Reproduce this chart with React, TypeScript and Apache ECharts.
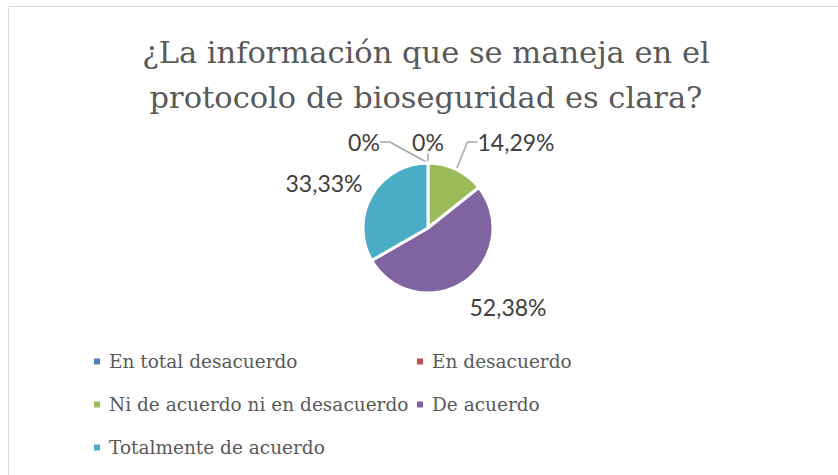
import React, { useEffect, useRef } from "react";
import * as echarts from "echarts";

const titleLines = ["¿La información que se maneja en el", "protocolo de bioseguridad es clara?"];
const categories = [
  "En total desacuerdo",
  "En desacuerdo",
  "Ni de acuerdo ni en desacuerdo",
  "De acuerdo",
  "Totalmente de acuerdo",
];
const percents = [0, 0, 14.29, 52.38, 33.33];
const labelTexts = ["0%", "0%", "14,29%", "52,38%", "33,33%"];
const colors = ["#4F81BD", "#C0504D", "#9BBB59", "#8064A2", "#4BACC6"];
const legendCol1 = [categories[0], categories[2], categories[4]];
const legendCol2 = [categories[1], categories[3]];
// label anchor positions (label centers)
const labelPos = [
  [364, 142],
  [428, 142],
  [516, 142],
  [508, 307],
  [324, 183],
];
const showLine = [true, true, true, false, false];

export default function App() {
  const ref = useRef<HTMLDivElement>(null);
  useEffect(() => {
    if (!ref.current) return;
    const chart = echarts.init(ref.current, null, { renderer: "svg" });
    const legendText = {
      color: "#595959",
      fontFamily: "DejaVu Serif",
      fontSize: 18.5,
      lineHeight: 21,
      padding: [0, 0, 0, 3],
    };
    chart.setOption({
      animation: false,
      backgroundColor: "#ffffff",
      color: colors,
      graphic: [
        {
          type: "rect",
          shape: { x: 8.5, y: 6.5, width: 900, height: 500 },
          style: { fill: "none", stroke: "#D9D9D9", lineWidth: 1 },
          silent: true,
        },
      ],
      title: {
        text: titleLines.join("\n"),
        left: 421,
        top: 25,
        textAlign: "center",
        textStyle: {
          color: "#595959",
          fontFamily: "DejaVu Serif",
          fontWeight: "normal",
          fontSize: 30.5,
          lineHeight: 45,
        },
      },
      legend: [
        {
          data: legendCol1,
          orient: "vertical",
          left: 92,
          top: 351,
          padding: 0,
          itemWidth: 8,
          itemHeight: 8,
          itemGap: 22,
          icon: "rect",
          textStyle: legendText,
        },
        {
          data: legendCol2,
          orient: "vertical",
          left: 415,
          top: 351,
          padding: 0,
          itemWidth: 8,
          itemHeight: 8,
          itemGap: 22,
          icon: "rect",
          textStyle: legendText,
        },
      ],
      series: [
        {
          type: "pie",
          center: [428, 228],
          radius: [0, 65],
          startAngle: 90,
          clockwise: true,
          stillShowZeroSum: true,
          minShowLabelAngle: 0,
          avoidLabelOverlap: false,
          itemStyle: { borderColor: "#ffffff", borderWidth: 3 },
          label: {
            show: true,
            position: "outside",
            color: "#404040",
            fontFamily: "Lato",
            fontSize: 23,
            formatter: (p: any) => labelTexts[p.dataIndex],
          },
          labelLine: {
            show: true,
            lineStyle: { color: "#A6A6A6", width: 1.5 },
            length: 10,
            length2: 10,
          },
          labelLayout: (params: any) => {
            const [x, y] = labelPos[params.dataIndex];
            return { x, y, align: "center", verticalAlign: "middle", hideOverlap: false };
          },
          data: categories.map((name, i) => ({
            name,
            value: percents[i],
            labelLine: { show: showLine[i] },
          })),
        },
      ],
    });
    return () => chart.dispose();
  }, []);
  return (
    <div
      ref={ref}
      style={{ position: "fixed", left: 0, top: 0, width: 838, height: 475 }}
    />
  );
}
